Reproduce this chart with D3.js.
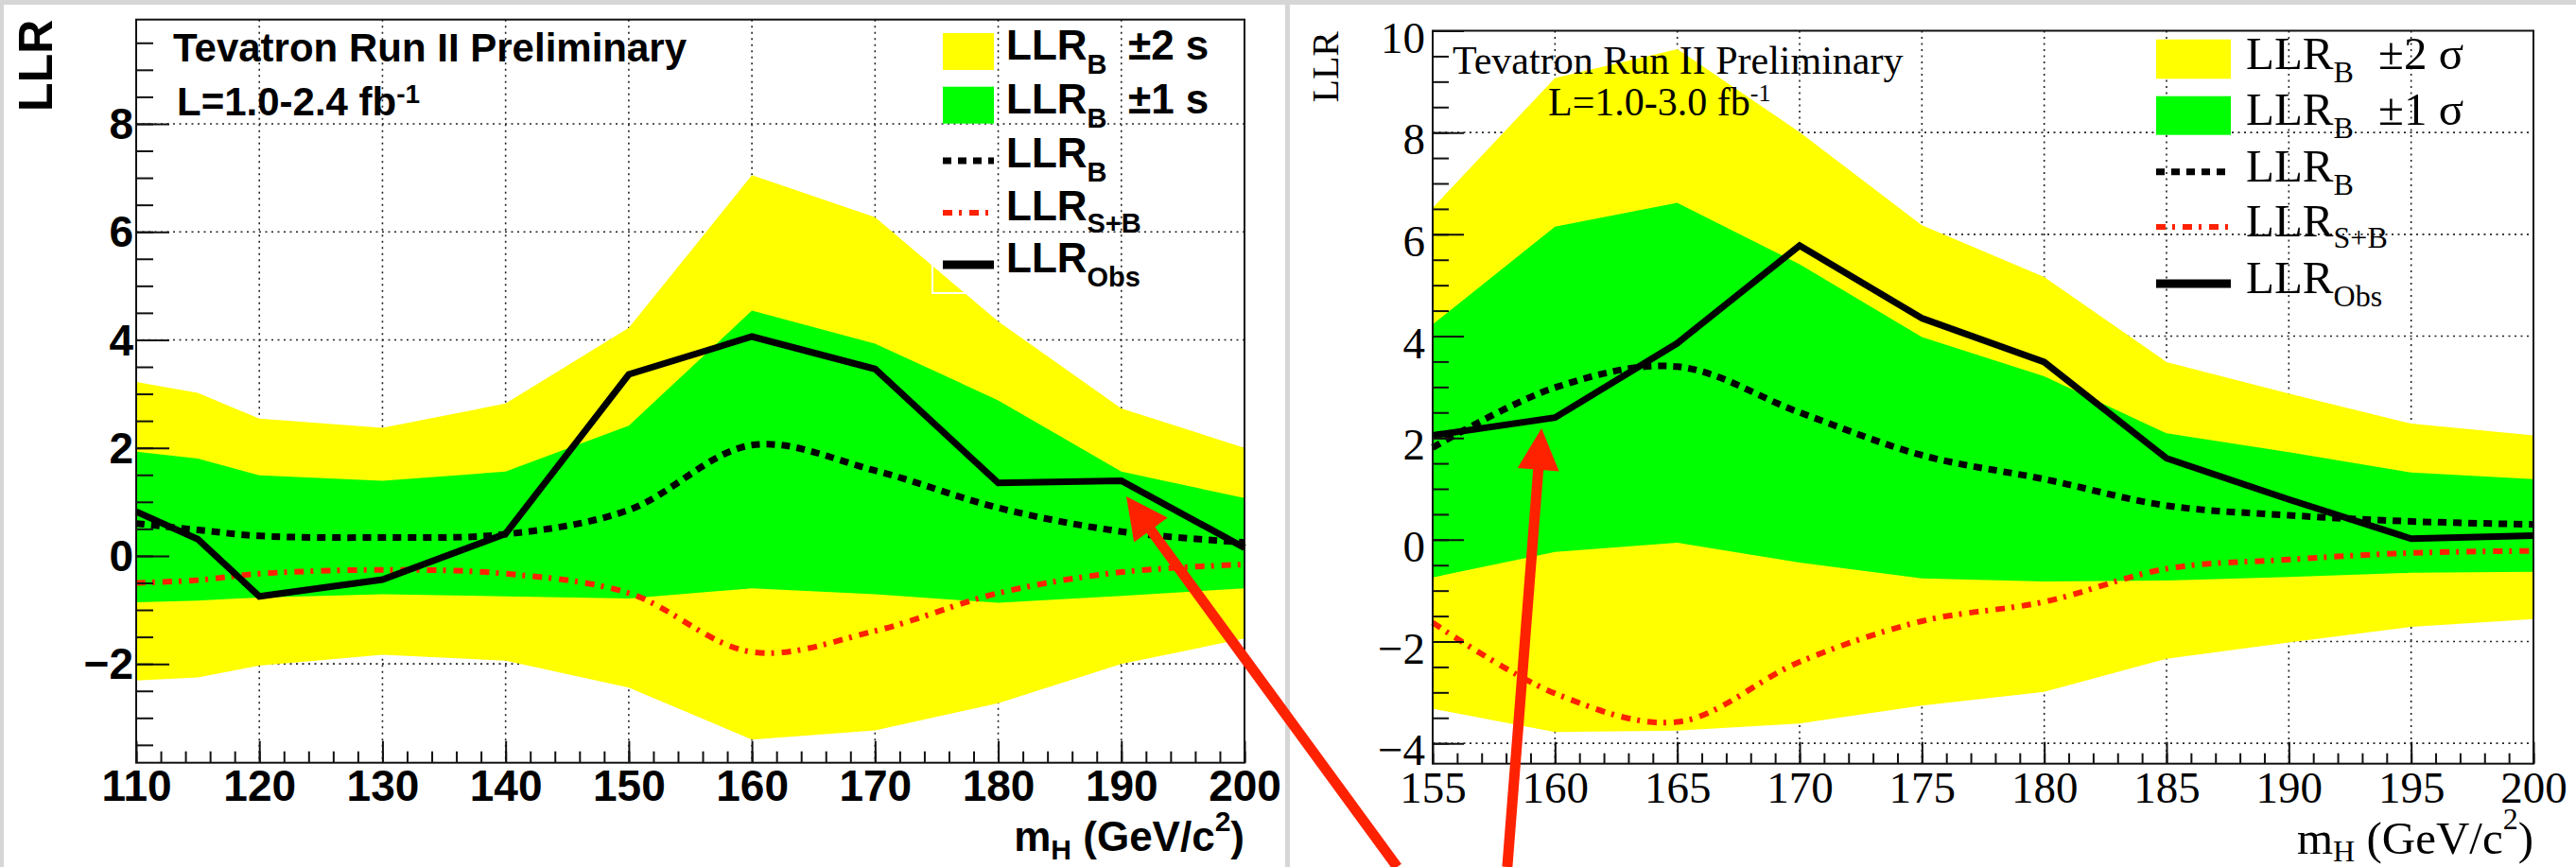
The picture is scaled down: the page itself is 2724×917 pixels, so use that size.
<!DOCTYPE html>
<html>
<head>
<meta charset="utf-8">
<script src="https://cdn.jsdelivr.net/npm/d3@7"></script>
<style>
  html, body { margin: 0; padding: 0; background: #d6d6d6; }
  svg { display: block; }
</style>
</head>
<body>
<svg id="chart" width="2724" height="917"></svg>
<script>
// ---- left plot (L = 1.0-2.4 fb-1) ----
const massLeft   = [110, 115, 120, 130, 140, 150, 160, 170, 180, 190, 200];
const left2sUp   = [3.22, 3.02, 2.54, 2.37, 2.82, 4.22, 7.05, 6.27, 4.34, 2.73, 2.00];
const left1sUp   = [1.93, 1.80, 1.49, 1.39, 1.56, 2.41, 4.54, 3.93, 2.88, 1.56, 1.07];
const left1sDn   = [-0.86, -0.83, -0.77, -0.71, -0.75, -0.79, -0.60, -0.71, -0.87, -0.74, -0.60];
const left2sDn   = [-2.31, -2.25, -2.03, -1.83, -1.94, -2.44, -3.40, -3.23, -2.73, -2.00, -1.53];
const leftLLRB   = [0.60, 0.48, 0.37, 0.34, 0.40, 0.85, 2.05, 1.58, 0.89, 0.45, 0.25];
const leftLLRSB  = [-0.50, -0.45, -0.33, -0.26, -0.33, -0.69, -1.78, -1.39, -0.69, -0.30, -0.16];
const leftObs    = [0.82, 0.31, -0.75, -0.44, 0.41, 3.36, 4.06, 3.46, 1.35, 1.39, 0.15];
const leftXTicks = [110, 120, 130, 140, 150, 160, 170, 180, 190, 200];
const leftYTicks = [-2, 0, 2, 4, 6, 8];

// ---- right plot (L = 1.0-3.0 fb-1) ----
const massRight   = [155, 160, 165, 170, 175, 180, 185, 190, 195, 200];
const right2sUp   = [6.52, 9.07, 9.64, 8.01, 6.18, 5.16, 3.49, 2.87, 2.28, 2.05];
const right1sUp   = [4.23, 6.15, 6.62, 5.41, 3.98, 3.21, 2.09, 1.72, 1.32, 1.19];
const right1sDn   = [-0.74, -0.24, -0.06, -0.45, -0.76, -0.82, -0.80, -0.73, -0.65, -0.63];
const right2sDn   = [-3.32, -3.78, -3.75, -3.61, -3.26, -2.99, -2.34, -2.02, -1.71, -1.56];
const rightLLRB   = [1.81, 2.99, 3.40, 2.50, 1.66, 1.19, 0.67, 0.48, 0.36, 0.30];
const rightLLRSB  = [-1.63, -3.02, -3.58, -2.40, -1.60, -1.22, -0.57, -0.39, -0.26, -0.22];
const rightObs    = [2.05, 2.40, 3.86, 5.78, 4.35, 3.49, 1.60, 0.79, 0.02, 0.08];
const rightXTicks = [155, 160, 165, 170, 175, 180, 185, 190, 195, 200];
const rightYTicks = [-4, -2, 0, 2, 4, 6, 8, 10];

// legend text
const legendSub = ["B", "B", "B", "S+B", "Obs"];
const legendSuffixLeft = ["\u00b12 s", "\u00b11 s", "", "", ""];
const legendSuffixRight = ["\u00b12 \u03c3", "\u00b11 \u03c3", "", "", ""];

// red annotation arrows (tip / tail in each plot's data units)
const arrowLeft  = { tip: [190.4, 1.10], tail: [212.4, -5.76] };
const arrowRight = { tip: [159.45, 2.19], tail: [158.05, -6.43] };

const YELLOW = "#ffff00", GREEN = "#00ff00", RED = "#ff2200";
const SANS = "'Liberation Sans', Arial, Helvetica, sans-serif";
const SERIF = "'Liberation Serif', 'Times New Roman', Times, serif";

const svg = d3.select("#chart");

// page background + the two white slides
svg.append("rect").attr("width", 2724).attr("height", 917).attr("fill", "#d6d6d6");
svg.append("rect").attr("x", 4).attr("y", 5).attr("width", 1355).attr("height", 912).attr("fill", "#fff");
svg.append("rect").attr("x", 1364).attr("y", 5).attr("width", 1360).attr("height", 912).attr("fill", "#fff");

function drawPanel(o) {
  const x = d3.scaleLinear().domain(o.xDomain).range([o.left, o.right]);
  const y = d3.scaleLinear().domain(o.yDomain).range([o.bottom, o.top]);
  const g = svg.append("g");

  // dotted grid
  const gx = o.xTicks.filter(v => v > o.xDomain[0] && v < o.xDomain[1]);
  const gy = o.yTicks.filter(v => v > o.yDomain[0] && v < o.yDomain[1]);
  g.append("g").selectAll("line").data(gx).join("line")
    .attr("x1", d => x(d)).attr("x2", d => x(d))
    .attr("y1", o.top).attr("y2", o.bottom)
    .attr("stroke", "#222").attr("stroke-width", 1.6).attr("stroke-dasharray", "2,4.5");
  g.append("g").selectAll("line").data(gy).join("line")
    .attr("x1", o.left).attr("x2", o.right)
    .attr("y1", d => y(d)).attr("y2", d => y(d))
    .attr("stroke", "#222").attr("stroke-width", 1.6).attr("stroke-dasharray", "2,4.5");

  const rows = o.mass.map((m, i) => ({
    m, u2: o.up2[i], u1: o.up1[i], d1: o.dn1[i], d2: o.dn2[i],
    b: o.llrB[i], sb: o.llrSB[i], obs: o.obs[i]
  }));

  const band = (lo, hi) => d3.area().x(d => x(d.m)).y0(d => y(d[lo])).y1(d => y(d[hi]));
  g.append("path").datum(rows).attr("d", band("d2", "u2")).attr("fill", YELLOW);
  g.append("path").datum(rows).attr("d", band("d1", "u1")).attr("fill", GREEN);

  if (o.artifact) {
    g.append("rect").attr("x", o.artifact[0]).attr("y", o.artifact[1])
      .attr("width", o.artifact[2]).attr("height", o.artifact[3])
      .attr("fill", "none").attr("stroke", "#fff").attr("stroke-width", 2);
  }

  const smooth = key => d3.line().x(d => x(d.m)).y(d => y(d[key])).curve(d3.curveCatmullRom.alpha(0.5));
  g.append("path").datum(rows).attr("d", smooth("b"))
    .attr("fill", "none").attr("stroke", "#000").attr("stroke-width", 7)
    .attr("stroke-dasharray", "9,7");
  g.append("path").datum(rows).attr("d", smooth("sb"))
    .attr("fill", "none").attr("stroke", RED).attr("stroke-width", 6)
    .attr("stroke-dasharray", "10,7,3,8");
  g.append("path").datum(rows)
    .attr("d", d3.line().x(d => x(d.m)).y(d => y(d.obs)))
    .attr("fill", "none").attr("stroke", "#000").attr("stroke-width", 7)
    .attr("stroke-linejoin", "miter");

  // axes: minor + major ticks pointing inward
  const noLabels = s => { s.select(".domain").remove(); s.selectAll("text").remove(); };
  const xa = g.append("g").attr("transform", `translate(0,${o.bottom})`);
  xa.append("g").call(d3.axisBottom(x).tickValues(o.xMinor).tickSize(-o.xMinorLen)).call(noLabels);
  xa.append("g").call(d3.axisBottom(x).tickValues(o.xTicks).tickSize(-o.xMajorLen).tickPadding(o.xPad))
    .call(s => s.select(".domain").remove());
  const ya = g.append("g").attr("transform", `translate(${o.left},0)`);
  ya.append("g").call(d3.axisLeft(y).tickValues(o.yMinor).tickSize(-o.yMinorLen)).call(noLabels);
  ya.append("g").call(d3.axisLeft(y).tickValues(o.yTicks).tickSize(-o.yMajorLen).tickPadding(o.yPad))
    .call(s => s.select(".domain").remove());
  g.selectAll(".tick line").attr("stroke", "#111").attr("stroke-width", 2);
  xa.selectAll("g").attr("font-family", o.font).attr("font-size", o.tickFont);
  ya.selectAll("g").attr("font-family", o.font).attr("font-size", o.tickFont);
  g.selectAll(".tick text")
    .attr("font-family", o.font).attr("font-weight", o.weight)
    .attr("font-size", o.tickFont).attr("fill", "#000");
  ya.selectAll(".tick text").attr("dy", o.yLabelDy);

  // frame
  g.append("rect").attr("x", o.left).attr("y", o.top)
    .attr("width", o.right - o.left).attr("height", o.bottom - o.top)
    .attr("fill", "none").attr("stroke", "#111").attr("stroke-width", 2);

  // legend
  const L = o.legend;
  const lg = g.append("g");
  lg.append("rect").attr("x", L.x).attr("y", L.boxes[0][0]).attr("width", L.w)
    .attr("height", L.boxes[0][1] - L.boxes[0][0]).attr("fill", YELLOW);
  lg.append("rect").attr("x", L.x).attr("y", L.boxes[1][0]).attr("width", L.w)
    .attr("height", L.boxes[1][1] - L.boxes[1][0]).attr("fill", GREEN);
  lg.append("line").attr("x1", L.x).attr("x2", L.x + L.w).attr("y1", L.lines[0]).attr("y2", L.lines[0])
    .attr("stroke", "#000").attr("stroke-width", 7).attr("stroke-dasharray", "9,7");
  lg.append("line").attr("x1", L.x).attr("x2", L.x + L.w).attr("y1", L.lines[1]).attr("y2", L.lines[1])
    .attr("stroke", RED).attr("stroke-width", 6).attr("stroke-dasharray", "10,7,3,8");
  lg.append("line").attr("x1", L.x).attr("x2", L.x + L.w).attr("y1", L.lines[2]).attr("y2", L.lines[2])
    .attr("stroke", "#000").attr("stroke-width", 9);

  legendSub.forEach((sub, i) => {
    const t = lg.append("text").attr("x", L.tx).attr("y", L.base[i])
      .attr("font-family", o.font).attr("font-weight", o.weight).attr("font-size", L.font);
    t.append("tspan").text("LLR");
    t.append("tspan").attr("dy", L.subDy[i]).attr("font-size", L.subFont).text(sub);
    if (o.suffix[i]) {
      lg.append("text").attr("x", L.sx).attr("y", L.base[i])
        .attr("font-family", o.font).attr("font-weight", o.weight).attr("font-size", L.font)
        .text(o.suffix[i]);
    }
  });

  // titles
  const T = o.title;
  g.append("text").attr("x", T.x1).attr("y", T.y1)
    .attr("font-family", o.font).attr("font-weight", o.weight).attr("font-size", T.font)
    .text("Tevatron Run II Preliminary");
  const lum = g.append("text").attr("x", T.x2).attr("y", T.y2)
    .attr("font-family", o.font).attr("font-weight", o.weight).attr("font-size", T.font);
  lum.append("tspan").text(T.lumi);
  lum.append("tspan").attr("dy", T.supDy).attr("font-size", T.supFont).text("-1");

  // axis titles
  const xt = g.append("text").attr("x", o.right).attr("y", o.xTitle.y).attr("text-anchor", "end")
    .attr("font-family", o.font).attr("font-weight", o.weight).attr("font-size", o.xTitle.font);
  xt.append("tspan").text("m");
  xt.append("tspan").attr("dy", o.xTitle.subDy).attr("font-size", o.xTitle.subFont).text("H");
  xt.append("tspan").attr("dy", -o.xTitle.subDy).text(" (GeV/c");
  xt.append("tspan").attr("dy", o.xTitle.supDy).attr("font-size", o.xTitle.subFont).text("2");
  xt.append("tspan").attr("dy", -o.xTitle.supDy).text(")");

  g.append("text")
    .attr("transform", `translate(${o.yTitle.x},${o.top + o.yTitle.dy}) rotate(-90)`)
    .attr("text-anchor", "end")
    .attr("font-family", o.font).attr("font-weight", o.weight).attr("font-size", o.yTitle.font)
    .text("LLR");

  return { x, y };
}

const leftPanel = drawPanel({
  mass: massLeft, up2: left2sUp, up1: left1sUp, dn1: left1sDn, dn2: left2sDn,
  llrB: leftLLRB, llrSB: leftLLRSB, obs: leftObs,
  xDomain: [110, 200], yDomain: [-3.83, 9.93],
  left: 144, right: 1316, top: 20.7, bottom: 806.7,
  xTicks: leftXTicks, yTicks: leftYTicks,
  xMinor: d3.range(110, 200.1, 2), yMinor: d3.range(-3.5, 9.6, 0.5),
  xMajorLen: 23, xMinorLen: 12, yMajorLen: 35, yMinorLen: 18,
  xPad: 8, yPad: 3, yLabelDy: "0.34em",
  font: SANS, weight: "bold", tickFont: 46,
  suffix: legendSuffixLeft,
  legend: {
    x: 997, w: 54, tx: 1064, sx: 1193, font: 44, subFont: 29,
    boxes: [[35, 74], [91.7, 130.7]], lines: [170, 225, 280],
    base: [63.3, 120, 176.7, 233.3, 288.3], subDy: [15, 15, 15, 13, 15]
  },
  artifact: [986, 278, 38, 32],
  title: { x1: 183, y1: 65, x2: 187, y2: 121.7, font: 42, lumi: "L=1.0-2.4 fb", supDy: -13, supFont: 28 },
  xTitle: { y: 900, font: 44, subFont: 30, subDy: 9, supDy: -21 },
  yTitle: { x: 55, dy: 0, font: 50 }
});

const rightPanel = drawPanel({
  mass: massRight, up2: right2sUp, up1: right1sUp, dn1: right1sDn, dn2: right2sDn,
  llrB: rightLLRB, llrSB: rightLLRSB, obs: rightObs,
  xDomain: [155, 200], yDomain: [-4.4, 10],
  left: 1515, right: 2679, top: 32.5, bottom: 807.7,
  xTicks: rightXTicks, yTicks: rightYTicks,
  xMinor: d3.range(155, 200.1, 1), yMinor: d3.range(-4, 10.01, 0.5),
  xMajorLen: 23, xMinorLen: 11, yMajorLen: 33, yMinorLen: 17,
  xPad: 8, yPad: 8, yLabelDy: "0.48em",
  font: SERIF, weight: "normal", tickFont: 47,
  suffix: legendSuffixRight,
  legend: {
    x: 2280, w: 79, tx: 2375, sx: 2515, font: 49, subFont: 32,
    boxes: [[41.7, 83.3], [101.7, 142.7]], lines: [181.7, 240, 300],
    base: [73.3, 131.7, 191.7, 250, 310], subDy: [14, 14, 14, 12, 14]
  },
  artifact: null,
  title: { x1: 1536, y1: 78.3, x2: 1637, y2: 121.7, font: 42, lumi: "L=1.0-3.0 fb", supDy: -15, supFont: 26 },
  xTitle: { y: 903, font: 49, subFont: 32, subDy: 8, supDy: -26 },
  yTitle: { x: 1415, dy: 0.5, font: 40 }
});

// red annotation arrows
function drawArrow(p, a) {
  const tip = [p.x(a.tip[0]), p.y(a.tip[1])];
  const tail = [p.x(a.tail[0]), p.y(a.tail[1])];
  const dx = tip[0] - tail[0], dy = tip[1] - tail[1];
  const len = Math.hypot(dx, dy), ux = dx / len, uy = dy / len;
  const headLen = 44, headHalf = 22;
  const base = [tip[0] - ux * headLen, tip[1] - uy * headLen];
  svg.append("line")
    .attr("x1", tail[0]).attr("y1", tail[1])
    .attr("x2", base[0] + ux * 4).attr("y2", base[1] + uy * 4)
    .attr("stroke", RED).attr("stroke-width", 11);
  svg.append("path")
    .attr("d", `M${tip[0]},${tip[1]}L${base[0] - uy * headHalf},${base[1] + ux * headHalf}` +
               `L${base[0] + uy * headHalf},${base[1] - ux * headHalf}Z`)
    .attr("fill", RED);
}
drawArrow(leftPanel, arrowLeft);
drawArrow(rightPanel, arrowRight);
</script>
</body>
</html>
